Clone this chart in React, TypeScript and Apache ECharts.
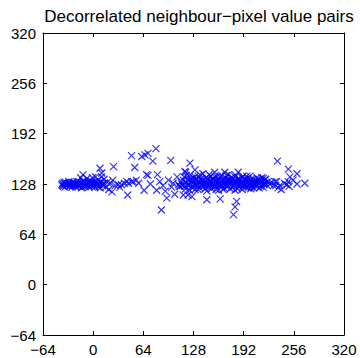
import React, { useEffect, useRef } from "react";
import * as echarts from "echarts";

const TITLE = "Decorrelated neighbour\u2212pixel value pairs";
const AXIS_MIN = -64;
const AXIS_MAX = 320;
const AXIS_STEP = 64;

const leftTail: number[][] = [
  [-40, 127], [-39, 129], [-38, 125], [-36, 128], [-35, 130], [-34, 126], [-32, 127], [-31, 129],
  [-30, 125], [-28, 128], [-27, 130], [-26, 126], [-24, 127], [-23, 129], [-22, 124], [-20, 128],
  [-19, 131], [-18, 126], [-16, 127], [-15, 129], [-14, 124], [-13, 140], [-12, 128], [-11, 131],
  [-10, 125], [-8, 127], [-7, 130], [-6, 126], [-4, 128], [-3, 132], [-2, 125], [0, 127],
  [1, 130], [2, 124], [4, 129], [5, 126], [6, 133], [8, 127], [9, 123], [10, 130],
  [-39, 126], [-37, 130], [-36, 124], [-33, 128], [-31, 131], [-29, 127], [-27, 124], [-25, 130],
  [-23, 126], [-21, 131], [-19, 125], [-17, 130], [-15, 123], [-13, 132], [-12, 125], [-10, 130],
  [-9, 127], [-6, 131], [-5, 124], [-3, 128], [-1, 130], [1, 126], [3, 131], [5, 128],
  [7, 124], [9, 131], [12, 126], [14, 129], [-16, 136], [-8, 135], [-1, 136], [3, 137],
];

const middle: number[][] = [
  [8.7, 148], [11, 142], [11, 137], [26, 150], [12, 128], [14, 134], [16, 124], [18, 130],
  [20, 121], [22, 129], [24, 118], [25, 133], [28, 126], [32, 127], [34, 124], [36, 127],
  [40, 129], [43, 131], [44, 114], [45, 129], [49, 131], [49, 164], [51, 131], [53, 149],
  [55, 133], [58, 129], [62, 163], [65, 120], [66, 165], [68, 140], [70, 167], [70, 139],
  [73, 128], [76, 157], [80, 173], [81, 120], [82, 140], [85, 131], [87, 95], [89, 126],
  [92, 119], [94, 110], [96, 133], [99, 158], [100, 124], [102, 129], [104, 115], [107, 137],
  [109, 127], [111, 125], [115, 114], [117, 144],
];

const core: number[][] = [
  [112, 131], [114, 126], [116, 137], [118, 122], [119, 130], [121, 134], [122, 127], [124, 140],
  [125, 124], [126, 131], [128, 136], [129, 128], [130, 121], [131, 133], [133, 126], [134, 138],
  [135, 130], [136, 123], [137, 134], [139, 128], [140, 141], [141, 125], [142, 131], [144, 136],
  [145, 119], [146, 129], [147, 133], [148, 126], [150, 138], [151, 131], [152, 124], [153, 135],
  [154, 128], [156, 132], [157, 121], [158, 137], [159, 127], [160, 130], [161, 134], [163, 125],
  [164, 139], [165, 129], [166, 132], [167, 123], [169, 136], [170, 128], [171, 131], [172, 126],
  [173, 140], [174, 133], [176, 129], [177, 124], [178, 135], [179, 130], [180, 127], [181, 137],
  [183, 132], [184, 122], [185, 129], [186, 134], [187, 127], [189, 131], [190, 136], [191, 125],
  [192, 130], [194, 133], [195, 128], [196, 138], [197, 126], [199, 131], [132, 129], [138, 132],
  [143, 127], [149, 130], [155, 127], [162, 128], [168, 130], [175, 131], [182, 128], [188, 129],
  [193, 127], [198, 130], [123.5, 154.5], [129.9, 145.9], [118, 143], [155, 143], [168, 143],
  [185, 143], [145, 108], [162, 109], [183, 106], [181, 99], [179, 89], [121, 114], [126, 112],
  [198, 123], [110, 125],
  [113, 128], [115, 133], [117, 125], [119, 139], [120, 127], [122, 132], [123, 120], [125, 135],
  [127, 129], [128, 124], [130, 137], [131, 127], [132, 134], [134, 121], [136, 129], [137, 139],
  [138, 125], [140, 133], [141, 128], [143, 122], [144, 131], [146, 135], [147, 124], [148, 140],
  [149, 127], [151, 122], [152, 134], [153, 129], [155, 137], [156, 125], [157, 131], [159, 133],
  [160, 120], [161, 128], [162, 138], [164, 126], [165, 133], [166, 121], [168, 127], [169, 132],
  [170, 139], [171, 124], [172, 134], [174, 128], [175, 122], [176, 136], [177, 130], [179, 125],
  [180, 133], [181, 120], [182, 139], [184, 127], [185, 135], [186, 124], [187, 132], [189, 128],
  [190, 121], [191, 138], [192, 126], [193, 134], [195, 124], [196, 131], [197, 135], [199, 127],
];

const rightTail: number[][] = [
  [200, 129], [201, 134], [202, 124], [203, 126], [204, 130], [205, 127], [206, 131], [207, 129],
  [208, 132], [209, 127], [210, 131], [211, 134], [212, 133], [213, 130], [214, 125], [216, 131],
  [217, 135], [218, 127], [219, 129], [220, 134], [221, 127], [223, 131], [225, 128], [228, 130],
  [230, 126], [232, 131], [200, 138], [201, 122], [202, 130], [204, 134], [205, 123], [206, 128],
  [208, 125], [209, 136], [211, 129], [212, 123], [214, 132], [215, 136], [217, 124], [219, 133],
];

const rightScatter: number[][] = [
  [235, 157], [249, 147], [260, 141], [270, 129], [260, 128], [251, 137], [249, 131], [250, 125],
  [247, 127], [234, 131], [233, 126], [236, 123], [240, 121], [238, 126], [255, 133], [244, 129],
];

const allPoints = [...leftTail, ...middle, ...core, ...rightTail, ...rightScatter];

const FONT = "'Liberation Sans', Arial, Helvetica, sans-serif";
const fmt = (v: number) => (v < 0 ? "\u2212" + Math.abs(v) : String(v));

export default function App() {
  const ref = useRef<HTMLDivElement>(null);
  useEffect(() => {
    if (!ref.current) return;
    const chart = echarts.init(ref.current, undefined, { renderer: "svg" });
    const axisBase = {
      type: "value" as const,
      min: AXIS_MIN,
      max: AXIS_MAX,
      interval: AXIS_STEP,
      splitLine: { show: false },
      axisLine: { show: true, onZero: false, lineStyle: { color: "#000", width: 1 } },
      axisTick: { show: true, inside: true, length: 4, lineStyle: { color: "#000" } },
    };
    chart.setOption({
      animation: false,
      title: {
        text: TITLE,
        left: 194,
        textAlign: "center",
        top: 3,
        textStyle: { fontFamily: FONT, fontSize: 17, fontWeight: "normal", color: "#000" },
      },
      grid: { left: 43, right: 16, top: 33, bottom: 23 },
      xAxis: [
        {
          ...axisBase,
          position: "bottom",
          axisLabel: { color: "#000", fontFamily: FONT, fontSize: 15, margin: 7, formatter: fmt },
        },
        { ...axisBase, position: "top", axisLabel: { show: false } },
      ],
      yAxis: [
        {
          ...axisBase,
          position: "left",
          axisLabel: { color: "#000", fontFamily: FONT, fontSize: 15, margin: 7, formatter: fmt },
        },
        { ...axisBase, position: "right", axisLabel: { show: false } },
      ],
      series: [
        {
          type: "scatter",
          data: allPoints,
          symbol: "path://M0,0L10,10M10,0L0,10",
          symbolSize: 7,
          itemStyle: { color: "none", borderColor: "#0000ff", borderWidth: 1.2 },
          emphasis: { disabled: true },
        },
      ],
    });
    return () => chart.dispose();
  }, []);
  return <div ref={ref} style={{ width: 360, height: 358, position: "absolute", left: 0, top: 0 }} />;
}
